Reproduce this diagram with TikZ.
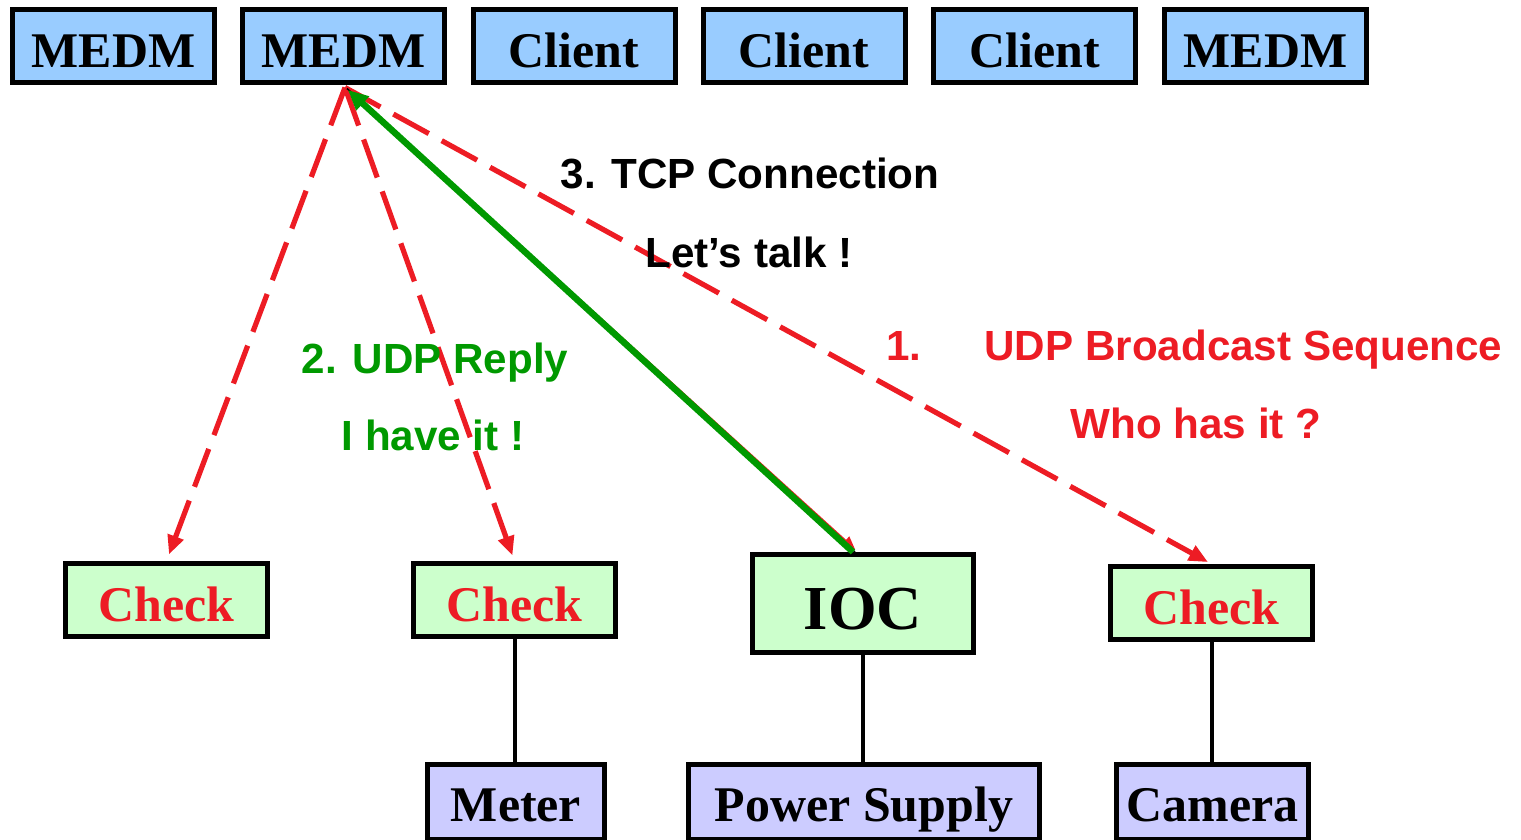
\documentclass[tikz,border=0pt]{standalone}
\usepackage{fontspec}
\setmainfont{Liberation Serif}
\newfontfamily\sansf{Liberation Sans}
\usetikzlibrary{arrows.meta,calc}
\definecolor{boxblue}{HTML}{99CCFF}
\definecolor{boxgreen}{HTML}{CCFFCC}
\definecolor{boxpurple}{HTML}{CCCCFF}
\definecolor{udpred}{HTML}{ED1C24}
\definecolor{udpgreen}{HTML}{009900}
\begin{document}
\begin{tikzpicture}[
  box/.style={draw=black, line width=0.05cm, inner sep=0pt, minimum height=0.73cm,
    text height=0.42cm, text depth=0cm, font=\fontsize{14.2}{17}\selectfont\bfseries},
  clientbox/.style={box, fill=boxblue, minimum width=2.02cm},
  checkbox/.style={box, fill=boxgreen, minimum width=2.02cm, text=udpred},
  iocbox/.style={box, fill=boxgreen, minimum width=2.21cm, minimum height=0.98cm,
    text height=0.52cm, font=\fontsize{17.8}{21}\selectfont\bfseries},
  devbox/.style={box, fill=boxpurple, minimum height=0.75cm, text height=0.38cm},
  wire/.style={black, line width=0.04cm},
  udpdash/.style={udpred, line width=0.052cm, dash pattern=on 11.5pt off 4.2pt,
    -{Triangle[length=0.19cm,width=0.16cm]}},
  label/.style={font=\fontsize{12}{14}\selectfont\sansf\bfseries, inner sep=0pt,
    text height=0.30cm, text depth=0cm}
]
\useasboundingbox (0,0) rectangle (15.21,-8.40);
\clip (0,0) rectangle (15.21,-8.40);

% top row
\node[clientbox] (m1) at (1.135,-0.46) {MEDM};
\node[clientbox] (m2) at (3.435,-0.46) {MEDM};
\node[clientbox] (cl1) at (5.74,-0.46) {Client};
\node[clientbox] (cl2) at (8.04,-0.46) {Client};
\node[clientbox] (cl3) at (10.345,-0.46) {Client};
\node[clientbox] (m3) at (12.655,-0.46) {MEDM};

% middle row
\node[checkbox] (c1) at (1.665,-6.00) {Check};
\node[checkbox] (c2) at (5.145,-6.00) {Check};
\node[iocbox] (ioc) at (8.63,-6.035) {IOC};
\node[checkbox] (c3) at (12.115,-6.03) {Check};

% bottom row
\node[devbox, minimum width=1.77cm] (meter) at (5.16,-8.02) {Meter};
\node[devbox, minimum width=3.51cm] (ps) at (8.64,-8.02) {Power Supply};
\node[devbox, minimum width=1.92cm] (cam) at (12.125,-8.02) {Camera};

% wires
\draw[wire] (c2.south) -- (c2.south |- meter.north);
\draw[wire] (ioc.south) -- (ioc.south |- ps.north);
\draw[wire] (c3.south) -- (c3.south |- cam.north);

% arrows
\coordinate (apex) at (3.45,-0.875);
\coordinate (iocin) at ($(ioc.north)+(-0.05,0)$);
\coordinate (iocout) at ($(ioc.north)+(-0.10,0)$);
\coordinate (medmin) at (3.48,-0.90);

\draw[udpdash, shorten >=0.07cm] (apex) -- (c1.north);
\draw[udpdash, shorten >=0.06cm] (apex) -- (c2.north);
\draw[udpdash, shorten >=0.04cm] (apex) -- (c3.north);
\draw[udpred, line width=0.02cm, -{Triangle[length=0.13cm,width=0.11cm]}, shorten >=0.04cm]
  ($(apex)+(0.015,-0.005)$) -- (iocin);
\draw[black, line width=0.015cm] ($(apex)+(0.02,-0.01)$) -- ($(iocout)+(0.02,0)$);
\draw[udpgreen, line width=0.065cm, -{Triangle[length=0.2cm,width=0.18cm]}]
  (iocout) -- (medmin);

% labels
\node[label] (tcp) at (7.50,-1.73) {3. TCP Connection};
\node[label] (talk) at (7.49,-2.52) {Let’s talk !};
\node[label, text=udpgreen] (reply) at (4.35,-3.58) {2. UDP Reply};
\node[label, text=udpgreen] (have) at (4.33,-4.35) {I have it !};
\node[label, text=udpred] (one) at (9.04,-3.45) {1.};
\node[label, text=udpred] (bcast) at (12.435,-3.45) {UDP Broadcast Sequence};
\node[label, text=udpred] (who) at (11.96,-4.23) {Who has it ?};
\end{tikzpicture}
\end{document}
